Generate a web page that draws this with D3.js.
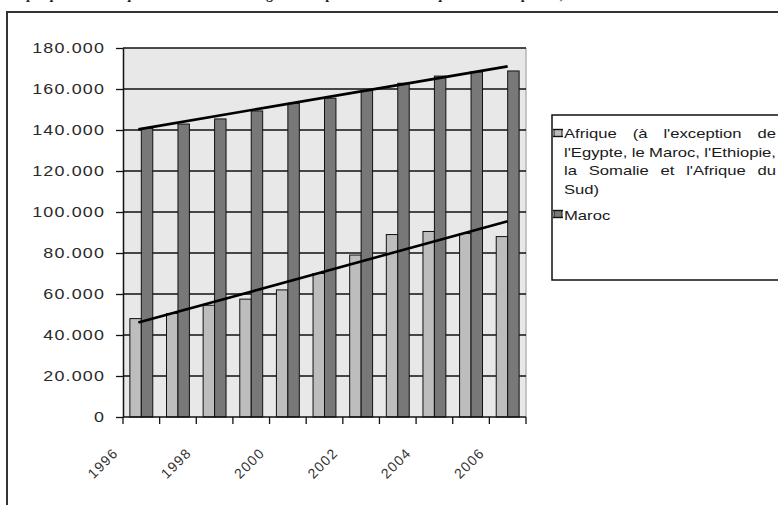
<!DOCTYPE html>
<html>
<head>
<meta charset="utf-8">
<script src="https://cdn.jsdelivr.net/npm/d3@7"></script>
<style>
  html, body { margin: 0; padding: 0; background: #fff; }
  svg { display: block; }
</style>
</head>
<body>
<svg id="chart" width="778" height="505"></svg>
<script>
// Years on the category axis
const years = ["1996", "1997", "1998", "1999", "2000", "2001", "2002", "2003", "2004", "2005", "2006"];
// Africa (excluding Egypt, Morocco, Ethiopia, Somalia and South Africa)
const afriqueValues = [48000, 50500, 54500, 57500, 62000, 70000, 79000, 89000, 90500, 89500, 88000];
// Morocco
const marocValues = [140800, 142900, 145400, 149300, 153000, 155500, 159200, 162800, 166300, 168400, 168800];
// Axis ticks
const yTickValues = [0, 20000, 40000, 60000, 80000, 100000, 120000, 140000, 160000, 180000];
const xTickLabels = ["1996", "1998", "2000", "2002", "2004", "2006"];
// Legend entries (first one wraps over several justified lines)
const legendAfrique = ["Afrique (à l'exception de", "l'Egypte, le Maroc, l'Ethiopie,", "la Somalie et l'Afrique du", "Sud)"];
const legendMaroc = "Maroc";
const titleText = "Graphique 3 Statistiques des entrées d'immigrants en provenance d'Afrique au Maroc par an, 1996-2006";

const svg = d3.select("#chart");
const W = 778, H = 505;
svg.append("rect").attr("width", W).attr("height", H).attr("fill", "#fff");

const sans = "'Liberation Sans', Arial, sans-serif";
const colAfrique = "#bdbdbd";
const colMaroc = "#787878";
const stretch = 1.28; // horizontal stretch of the chart lettering

// Title line, running off the top edge
svg.append("text")
  .attr("x", 2).attr("y", -1)
  .attr("font-family", "'Liberation Serif', 'Times New Roman', serif")
  .attr("font-weight", "bold")
  .attr("font-size", 14)
  .attr("fill", "#222")
  .text(titleText);

// Outer frame
svg.append("path")
  .attr("d", `M7,${H + 2} V12 H${W + 2}`)
  .attr("fill", "none").attr("stroke", "#333").attr("stroke-width", 2);

// Scales
const plot = { left: 123, right: 526, top: 48, bottom: 417 };
const x = d3.scaleBand().domain(years).range([plot.left, plot.right]).padding(0);
const sub = d3.scaleBand().domain(["afrique", "maroc"]).range([0, x.bandwidth()])
  .paddingInner(0).paddingOuter(0.6);
const y = d3.scaleLinear().domain([0, 180000]).range([plot.bottom, plot.top]);

// Plot background
svg.append("rect")
  .attr("x", plot.left).attr("y", plot.top)
  .attr("width", plot.right - plot.left).attr("height", plot.bottom - plot.top)
  .attr("fill", "#e8e8e8");
svg.append("line")
  .attr("x1", plot.right).attr("x2", plot.right)
  .attr("y1", plot.top).attr("y2", plot.bottom)
  .attr("stroke", "#b4b4b4").attr("stroke-width", 1.5);

// Horizontal gridlines
svg.append("g").selectAll("line")
  .data(yTickValues.filter(v => v > 0))
  .join("line")
  .attr("x1", plot.left).attr("x2", plot.right)
  .attr("y1", d => y(d)).attr("y2", d => y(d))
  .attr("stroke", "#111").attr("stroke-width", 1.3);

// Bars
const rows = years.map((yr, i) => ({ year: yr, afrique: afriqueValues[i], maroc: marocValues[i] }));
const groups = svg.append("g").selectAll("g")
  .data(rows)
  .join("g")
  .attr("transform", d => `translate(${x(d.year)},0)`);
groups.selectAll("rect")
  .data(d => [{ key: "afrique", v: d.afrique }, { key: "maroc", v: d.maroc }])
  .join("rect")
  .attr("x", d => sub(d.key))
  .attr("width", sub.bandwidth())
  .attr("y", d => y(d.v))
  .attr("height", d => y(0) - y(d.v))
  .attr("fill", d => d.key === "afrique" ? colAfrique : colMaroc)
  .attr("stroke", "#111").attr("stroke-width", 1);

// Linear trendlines (least squares over the category index)
function trend(values) {
  const n = values.length;
  const mx = d3.mean(values, (_, i) => i);
  const my = d3.mean(values);
  let sxy = 0, sxx = 0;
  values.forEach((v, i) => { sxy += (i - mx) * (v - my); sxx += (i - mx) * (i - mx); });
  const b = sxy / sxx, a = my - b * mx;
  return [0, n - 1].map(i => [x(years[i]) + x.bandwidth() / 2, y(a + b * i)]);
}
const lineGen = d3.line();
[afriqueValues, marocValues].forEach(vals => {
  const pts = trend(vals);
  pts[0][0] -= 3;
  svg.append("path")
    .attr("d", lineGen(pts))
    .attr("fill", "none").attr("stroke", "#000").attr("stroke-width", 2.6);
});

// Y axis
const fr = d3.formatLocale({ decimal: ",", thousands: ".", grouping: [3], currency: ["", " €"] });
const yAxis = d3.axisLeft(y).tickValues(yTickValues).tickSize(7).tickSizeOuter(0)
  .tickFormat(fr.format(",d"));
const gy = svg.append("g").attr("transform", `translate(${plot.left},0)`).call(yAxis);
gy.select(".domain").attr("stroke", "#111").attr("stroke-width", 1.5);
gy.selectAll(".tick line").attr("stroke", "#111").attr("stroke-width", 1.3);
gy.selectAll(".tick text")
  .attr("x", null)
  .attr("transform", `translate(-18,0) scale(${stretch},1)`)
  .attr("font-family", sans).attr("font-size", 14)
  .attr("letter-spacing", 0.9)
  .attr("fill", "#2a2a2a");

// X axis with ticks at category boundaries
svg.append("line")
  .attr("x1", plot.left).attr("x2", plot.right)
  .attr("y1", plot.bottom).attr("y2", plot.bottom)
  .attr("stroke", "#111").attr("stroke-width", 1.5);
const boundaries = years.map(yr => x(yr)).concat([plot.right]);
svg.append("g").selectAll("line")
  .data(boundaries)
  .join("line")
  .attr("x1", d => d).attr("x2", d => d)
  .attr("y1", plot.bottom).attr("y2", plot.bottom + 7)
  .attr("stroke", "#111").attr("stroke-width", 1.3);
svg.append("g").selectAll("text")
  .data(xTickLabels)
  .join("text")
  .attr("transform", d => `translate(${x(d) - 4},${plot.bottom + 37}) rotate(-45)`)
  .attr("text-anchor", "end")
  .attr("font-family", sans).attr("font-size", 14)
  .attr("letter-spacing", 1.2)
  .attr("fill", "#333")
  .text(d => d);

// Legend
const lg = { left: 552, top: 115, bottom: 280 };
svg.append("path")
  .attr("d", `M${W + 2},${lg.top} H${lg.left} V${lg.bottom} H${W + 2}`)
  .attr("fill", "none").attr("stroke", "#111").attr("stroke-width", 1.5);

function marker(yc, fill) {
  const g = svg.append("g");
  g.append("rect").attr("x", 554).attr("y", yc - 3.5).attr("width", 8).attr("height", 7)
    .attr("fill", fill).attr("stroke", "#111").attr("stroke-width", 1);
  g.append("line").attr("x1", 553).attr("x2", 563).attr("y1", yc - 3.5).attr("y2", yc - 3.5)
    .attr("stroke", "#111").attr("stroke-width", 1.4);
  g.append("line").attr("x1", 553).attr("x2", 563).attr("y1", yc + 3.5).attr("y2", yc + 3.5)
    .attr("stroke", "#111").attr("stroke-width", 1.4);
}
marker(133, colAfrique);
marker(214, colMaroc);

const textLeft = 564, textRight = 776;
function justifiedLine(str, yb, justify) {
  const words = str.split(" ");
  const nodes = words.map(w => svg.append("text")
    .attr("font-family", sans).attr("font-size", 13)
    .attr("fill", "#1a1a1a").text(w));
  const widths = nodes.map(n => n.node().getComputedTextLength() * stretch);
  const total = d3.sum(widths);
  const gap = justify && words.length > 1 ? (textRight - textLeft - total) / (words.length - 1) : 4.6;
  let cx = textLeft;
  nodes.forEach((n, i) => {
    n.attr("transform", `translate(${cx},${yb}) scale(${stretch},1)`);
    cx += widths[i] + gap;
  });
}
legendAfrique.forEach((line, i) => justifiedLine(line, 138 + i * 18.5, i < legendAfrique.length - 1));
justifiedLine(legendMaroc, 220, false);
</script>
</body>
</html>
